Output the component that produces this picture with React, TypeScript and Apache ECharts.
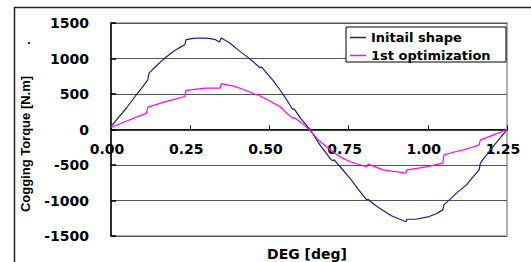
import React, { useEffect, useRef } from "react";
import * as echarts from "echarts";

const seriesNames = ["Initail shape", "1st optimization"];

const initDeg = [0, 0.02, 0.05, 0.076, 0.1, 0.116, 0.12, 0.145, 0.17, 0.2, 0.215, 0.233, 0.237, 0.26, 0.286, 0.31, 0.33, 0.342, 0.348, 0.375, 0.4, 0.428, 0.45, 0.47, 0.474, 0.48, 0.51, 0.533, 0.55, 0.573, 0.578, 0.6, 0.628, 0.66, 0.695, 0.7, 0.704, 0.73, 0.754, 0.78, 0.807, 0.812, 0.835, 0.859, 0.885, 0.912, 0.931, 0.934, 0.962, 1.004, 1.025, 1.047, 1.051, 1.09, 1.122, 1.14, 1.162, 1.166, 1.185, 1.206, 1.23, 1.25];
const initVal = [40, 150, 310, 465, 600, 700, 795, 905, 1006, 1110, 1150, 1194, 1265, 1283, 1289, 1284, 1265, 1232, 1289, 1218, 1125, 1030, 950, 870, 880, 855, 700, 560, 450, 285, 290, 150, 0, -220, -427, -440, -425, -560, -686, -840, -991, -985, -1070, -1140, -1215, -1265, -1300, -1264, -1264, -1226, -1190, -1132, -1061, -900, -780, -680, -569, -474, -360, -240, -110, 0];

const optDeg = [0, 0.05, 0.112, 0.116, 0.17, 0.233, 0.237, 0.297, 0.344, 0.348, 0.391, 0.42, 0.459, 0.463, 0.468, 0.5, 0.533, 0.55, 0.573, 0.578, 0.6, 0.625, 0.66, 0.702, 0.73, 0.754, 0.78, 0.807, 0.812, 0.859, 0.885, 0.912, 0.931, 0.934, 0.97, 1.0, 1.047, 1.051, 1.08, 1.112, 1.14, 1.162, 1.166, 1.2, 1.25];
const optVal = [28, 120, 231, 316, 390, 465, 550, 584, 584, 645, 607, 560, 489, 495, 480, 405, 324, 250, 160, 168, 100, 0, -170, -320, -400, -451, -490, -522, -488, -569, -585, -600, -616, -569, -545, -522, -474, -357, -320, -287, -250, -216, -146, -90, 0];

const xTicks = [0, 0.25, 0.5, 0.75, 1.0, 1.25];
const yTicks = [-1500, -1000, -500, 0, 500, 1000, 1500];

export default function App() {
  const ref = useRef<HTMLDivElement>(null);
  useEffect(() => {
    if (!ref.current) return;
    const chart = echarts.init(ref.current, undefined, { renderer: "svg" });
    const initData = initDeg.map((d, i) => [d, initVal[i]]);
    const optData = optDeg.map((d, i) => [d, optVal[i]]);
    chart.setOption({
      animation: false,
      backgroundColor: "#ffffff",
      grid: {
        left: 111,
        top: 23,
        right: 24,
        bottom: 26,
        show: true,
        borderColor: "#b0b0b0",
        borderWidth: 2,
        backgroundColor: "#ffffff",
      },
      xAxis: {
        type: "value",
        min: xTicks[0],
        max: xTicks[xTicks.length - 1],
        interval: 0.25,
        offset: -106.5,
        axisLine: { onZero: false, lineStyle: { color: "#000", width: 1.5 } },
        axisTick: { inside: true, length: 4, lineStyle: { color: "#000" } },
        splitLine: { show: false },
        axisLabel: {
          formatter: (v: number) => v.toFixed(2),
          fontFamily: "DejaVu Sans",
          fontWeight: "bold",
          fontSize: 14,
          color: "#000",
          margin: 12,
          padding: [0, 8, 0, 0],
        },
      },
      yAxis: {
        type: "value",
        min: yTicks[0],
        max: yTicks[yTicks.length - 1],
        interval: 500,
        axisLine: { show: true, onZero: false, lineStyle: { color: "#000", width: 1.5 } },
        axisTick: { show: true, inside: true, length: 5, lineStyle: { color: "#000", width: 1.5 } },
        splitLine: { show: true, lineStyle: { color: "#555", width: 1 } },
        axisLabel: {
          formatter: (v: number) => String(v),
          fontFamily: "DejaVu Sans",
          fontWeight: "bold",
          fontSize: 14,
          color: "#000",
          margin: 22,
        },
      },
      legend: {
        orient: "vertical",
        left: 350,
        top: 31,
        padding: 0,
        icon: "rect",
        itemWidth: 16,
        itemHeight: 1.5,
        itemGap: 5,
        z: 10,
        data: seriesNames,
        textStyle: { fontFamily: "DejaVu Sans", fontWeight: "bold", fontSize: 13, color: "#000" },
      },
      graphic: [
        {
          type: "rect",
          shape: { x: 14.5, y: 7.5, width: 530, height: 270 },
          style: { fill: "none", stroke: "#222", lineWidth: 1.5 },
          z: 0,
          silent: true,
        },
        {
          type: "rect",
          shape: { x: 346, y: 27, width: 160, height: 35 },
          style: { fill: "#fff", stroke: "#000", lineWidth: 1 },
          z: 4,
          silent: true,
        },
        {
          type: "text",
          x: 25,
          y: 144,
          rotation: Math.PI / 2,
          style: {
            text: "Cogging Torque [N.m]",
            fontFamily: "Liberation Sans",
            fontWeight: "bold",
            fontSize: 13,
            fill: "#000",
            align: "center",
            verticalAlign: "middle",
          },
        },
        {
          type: "text",
          x: 29,
          y: 40,
          style: {
            text: ".",
            fontFamily: "DejaVu Sans",
            fontWeight: "bold",
            fontSize: 10,
            fill: "#000",
            align: "center",
            verticalAlign: "middle",
          },
        },
        {
          type: "text",
          x: 307,
          y: 254,
          style: {
            text: "DEG [deg]",
            fontFamily: "DejaVu Sans",
            fontWeight: "bold",
            fontSize: 14,
            fill: "#000",
            align: "center",
            verticalAlign: "middle",
          },
        },
      ],
      series: [
        {
          name: seriesNames[0],
          type: "line",
          data: initData,
          symbol: "none",
          lineStyle: { color: "#1c1c8a", width: 1.2 },
          itemStyle: { color: "#1c1c8a" },
          z: 3,
        },
        {
          name: seriesNames[1],
          type: "line",
          data: optData,
          symbol: "none",
          lineStyle: { color: "#ff00ff", width: 1.2 },
          itemStyle: { color: "#ff00ff" },
          z: 3,
        },
      ],
    });
    return () => chart.dispose();
  }, []);
  return (
    <div
      ref={ref}
      style={{ position: "fixed", left: 0, top: 0, width: 531, height: 262, background: "#fff" }}
    />
  );
}
